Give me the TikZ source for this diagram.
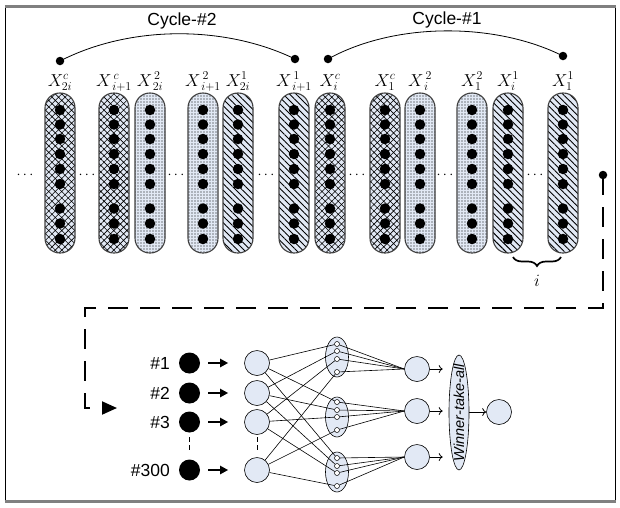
\documentclass[tikz,border=0pt]{standalone}
\usepackage{fontspec}
\newfontfamily\arial{Liberation Sans}
\usetikzlibrary{patterns,patterns.meta,arrows.meta,decorations.pathreplacing,shapes.geometric}
\definecolor{lb}{HTML}{E2E9F5}
\definecolor{framegray}{HTML}{808080}
\begin{document}
\begin{tikzpicture}[x=1pt,y=-1pt,
  pill/.style={draw=black!75, line width=1.1pt, rounded corners=14.8pt, minimum width=30pt, minimum height=160pt, inner sep=0pt, preaction={fill=lb}},
  pc/.style={pill, pattern={Hatch[angle=45,distance=4.6pt,line width=0.6pt]}},
  ptwo/.style={pill, pattern={Dots[distance=3pt,radius=0.6pt]}},
  pone/.style={pill, pattern={Lines[angle=-45,distance=4.6pt,line width=0.9pt]}},
  bigdot/.style={circle, fill=black, minimum size=10.5pt, inner sep=0pt},
  enddot/.style={circle, fill=black, minimum size=8.5pt, inner sep=0pt},
  xlab/.style={anchor=base, inner sep=0pt, font=\fontsize{16.5}{19}\selectfont},
  sans/.style={font=\arial\fontsize{17.5}{20}\selectfont, inner sep=0pt},
  ell/.style={draw, fill=lb, line width=0.6pt, circle, minimum size=25pt, inner sep=0pt},
  inp/.style={circle, fill=black, minimum size=21pt, inner sep=0pt},
  mid/.style={draw, fill=lb, line width=0.6pt, ellipse, minimum width=23pt, minimum height=40pt, inner sep=0pt},
  small/.style={draw, fill=white, line width=0.5pt, circle, minimum size=5pt, inner sep=0pt},
  wire/.style={line width=0.6pt},
  fatarrow/.style={line width=2pt, -{Triangle[length=8pt,width=8pt]}},
  openarrow/.style={line width=0.8pt, -{To[length=4pt,width=8pt]}},
  feed/.style={line width=2pt, dash pattern=on 20pt off 12pt, -{Triangle[length=15pt,width=13pt]}},
  fewdash/.style={line width=0.7pt, dash pattern=on 5pt off 3pt}
]
\useasboundingbox (0,0) rectangle (620,507);
% frame
\draw[line width=1pt] (5.5,6) -- (5.5,502);
\draw[line width=1pt] (615,6) -- (615,502);
\draw[framegray, line width=2.2pt] (4.5,6.5) -- (616,6.5);
\draw[framegray, line width=2.2pt] (4.5,501.5) -- (616,501.5);

% pills
\foreach \x/\s/\lab [count=\k] in {
  60/pc/{X^{c}_{2i}}, 114/pc/{X^{\,c}_{\,i+1}}, 150/ptwo/{X^{\,2}_{\,2i}},
  203/ptwo/{X^{\,2}_{\,i+1}}, 238/pone/{X^{1}_{2i}}, 294/pone/{X^{\,1}_{\,i+1}},
  330/pc/{X^{c}_{i}}, 385/pc/{X^{c}_{1}}, 420/ptwo/{X^{\,2}_{\,i}},
  472/ptwo/{X^{2}_{1}}, 508/pone/{X^{1}_{i}}, 563/pone/{X^{1}_{1}}}{
  \node[\s] (p\k) at (\x,173) {};
  \foreach \y [count=\j] in {110,124.5,139,154,169,184,208.5,223.5,239}
    \node[bigdot] (d\k-\j) at (\x,\y) {};
  \node[xlab] (l\k) at (\x,86) {$\lab$};
}
% ellipsis dots
\foreach \x [count=\k] in {25,87,176,266,357,445,535}
  \node[inner sep=0pt, font=\fontsize{14}{16}\selectfont] (el\k) at (\x,175) {$\cdots$};

% cycles
\node[enddot] (c2a) at (60,61) {};
\node[enddot] (c2b) at (295,59) {};
\draw[line width=0.8pt] (c2a.center) .. controls (130,25) and (225,25) .. (c2b.center);
\node[sans] (cyc2) at (182,21) {Cycle-\#2};
\node[enddot] (c1a) at (328,59) {};
\node[enddot] (c1b) at (563,56) {};
\draw[line width=0.8pt] (c1a.center) .. controls (395,22) and (495,22) .. (c1b.center);
\node[sans] (cyc1) at (447,20) {Cycle-\#1};

% brace
\draw[line width=1.7pt, decorate, decoration={brace, amplitude=9pt}] (561,257) -- (513,257);
\node[inner sep=0pt, font=\fontsize{18}{20}\selectfont] (ilab) at (537,281) {$i$};

% feedback dashed connector
\node[enddot] (src) at (603,175) {};
\coordinate (k1) at (603,308);
\coordinate (k2) at (85,308);
\coordinate (k3) at (85,408);
\coordinate (tgt) at (117,408);
\draw[feed] (src.center) -- (k1) -- (k2) -- (k3) -- (tgt);

% network inputs
\foreach \y/\t [count=\j] in {363/1,393/2,422/3,470/300}{
  \node[inp] (b\j) at (189.5,\y) {};
  \node[sans, anchor=east] (n\j) at (170,\y) {\#\t};
  \node[ell] (in\j) at (257,\y) {};
  \draw[fatarrow, shorten <=8pt, shorten >=16pt] (b\j) -- (in\j);
}
\draw[fewdash] (189,437) -- (189,451);
\draw[fewdash] (257,437) -- (257,451);

% middle ellipses
\node[mid] (m1) at (337,357) {};
\node[mid] (m2) at (337,417) {};
\node[mid] (m3) at (337,472) {};
\foreach \k/\ya/\yb/\yc/\yd in {1/344/351/359/372, 2/402/410/417/430, 3/458/466/473/486}{
  \node[small] (s\k-1) at (337,\ya) {};
  \node[small] (s\k-2) at (337,\yb) {};
  \node[small] (s\k-3) at (337,\yc) {};
  \node[small] (s\k-4) at (337,\yd) {};
}
% output layer
\node[ell] (o1) at (417,369) {};
\node[ell] (o2) at (417,411) {};
\node[ell] (o3) at (417,457) {};
\foreach \k in {1,2,3}{
  \foreach \j in {1,2,3,4}{
    \draw[wire] (in\j) -- (s\k-\j);
    \draw[wire] (s\k-\j) -- (o\k.west);
  }
}
% winner take all
\node[draw, fill=lb, line width=0.6pt, ellipse, minimum width=20pt, minimum height=115pt, inner sep=0pt] (wta) at (459,412.5) {};
\node[rotate=90, inner sep=0pt, font=\arial\itshape\fontsize{14.5}{16}\selectfont] (wtat) at (wta) {Winner-take-all};
\foreach \k in {1,2,3}
  \draw[openarrow, shorten >=6pt] (o\k) -- (wta.west |- o\k);
\node[ell] (fin) at (499,412) {};
\draw[openarrow] (wta.east |- fin) -- (fin);
\end{tikzpicture}
\end{document}
